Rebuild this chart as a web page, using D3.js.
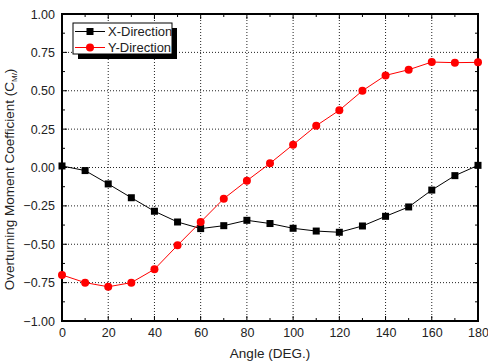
<!DOCTYPE html>
<html>
<head>
<meta charset="utf-8">
<script src="https://cdn.jsdelivr.net/npm/d3@7"></script>
<style>
  body { margin: 0; background: #fff; }
  svg { font-family: "Liberation Sans", Arial, sans-serif; }
</style>
</head>
<body>
<div id="chart"></div>
<script>
const angles = [0, 10, 20, 30, 40, 50, 60, 70, 80, 90, 100, 110, 120, 130, 140, 150, 160, 170, 180];
const xDirection = [0.01, -0.02, -0.107, -0.197, -0.285, -0.355, -0.398, -0.379, -0.344, -0.365, -0.396, -0.414, -0.422, -0.381, -0.318, -0.257, -0.147, -0.053, 0.014];
const yDirection = [-0.70, -0.75, -0.777, -0.75, -0.663, -0.507, -0.355, -0.203, -0.086, 0.027, 0.149, 0.272, 0.373, 0.50, 0.60, 0.637, 0.687, 0.683, 0.685];
const xTicks = [0, 20, 40, 60, 80, 100, 120, 140, 160, 180];
const yTicks = [-1, -0.75, -0.5, -0.25, 0, 0.25, 0.5, 0.75, 1];
const seriesNames = ["X-Direction", "Y-Direction"];

const W = 488, H = 363;
const m = { left: 62, right: 10, top: 14, bottom: 42 };

const svg = d3.select("#chart").append("svg")
  .attr("width", W)
  .attr("height", H);

const x = d3.scaleLinear().domain([0, 180]).range([m.left, W - m.right]);
const y = d3.scaleLinear().domain([-1, 1]).range([H - m.bottom, m.top]);

// dotted grid
const grid = svg.append("g");
grid.selectAll(".gx").data(xTicks.slice(1, -1)).join("line")
  .attr("x1", d => x(d)).attr("x2", d => x(d))
  .attr("y1", y(-1)).attr("y2", y(1))
  .attr("stroke", "#222").attr("stroke-width", 1).attr("stroke-dasharray", "1,2");
grid.selectAll(".gy").data(yTicks.slice(1, -1)).join("line")
  .attr("x1", x(0)).attr("x2", x(180))
  .attr("y1", d => y(d)).attr("y2", d => y(d))
  .attr("stroke", "#222").attr("stroke-width", 1).attr("stroke-dasharray", "1,2");

// tick labels
svg.append("g")
  .attr("transform", `translate(0,${y(-1)})`)
  .call(d3.axisBottom(x).tickValues(xTicks).tickSize(0).tickPadding(7).tickFormat(d3.format("d")))
  .call(g => g.select(".domain").remove())
  .call(g => g.selectAll("text").attr("font-size", 12.5).attr("fill", "#222"));

svg.append("g")
  .attr("transform", `translate(${x(0)},0)`)
  .call(d3.axisLeft(y).tickValues(yTicks).tickSize(0).tickPadding(7).tickFormat(d3.format(".2f")))
  .call(g => g.select(".domain").remove())
  .call(g => g.selectAll("text").attr("font-size", 12.5).attr("fill", "#222"));

// inward ticks on all four sides
const minorX = d3.range(0, 181, 10);
const minorY = d3.range(-1, 1.001, 0.125);
const ticks = svg.append("g").attr("stroke", "#000").attr("stroke-width", 1);
minorX.forEach((v, i) => {
  const len = i % 2 === 0 ? 5 : 3;
  ticks.append("line").attr("x1", x(v)).attr("x2", x(v)).attr("y1", y(-1)).attr("y2", y(-1) - len);
  ticks.append("line").attr("x1", x(v)).attr("x2", x(v)).attr("y1", y(1)).attr("y2", y(1) + len);
});
minorY.forEach((v, i) => {
  const len = i % 2 === 0 ? 5 : 3;
  ticks.append("line").attr("x1", x(0)).attr("x2", x(0) + len).attr("y1", y(v)).attr("y2", y(v));
  ticks.append("line").attr("x1", x(180)).attr("x2", x(180) - len).attr("y1", y(v)).attr("y2", y(v));
});

// frame
svg.append("rect")
  .attr("x", x(0)).attr("y", y(1))
  .attr("width", x(180) - x(0)).attr("height", y(-1) - y(1))
  .attr("fill", "none").attr("stroke", "#000").attr("stroke-width", 2);

// series
const line = d3.line().x((d, i) => x(angles[i])).y(d => y(d));

svg.append("path").datum(xDirection)
  .attr("d", line).attr("fill", "none").attr("stroke", "#000").attr("stroke-width", 1);
svg.append("path").datum(yDirection)
  .attr("d", line).attr("fill", "none").attr("stroke", "#ff0000").attr("stroke-width", 1);

svg.append("g").selectAll("rect").data(xDirection).join("rect")
  .attr("x", (d, i) => x(angles[i]) - 3.5).attr("y", d => y(d) - 3.5)
  .attr("width", 7).attr("height", 7).attr("fill", "#000");
svg.append("g").selectAll("circle").data(yDirection).join("circle")
  .attr("cx", (d, i) => x(angles[i])).attr("cy", d => y(d))
  .attr("r", 4).attr("fill", "#ff0000");

// legend with drop shadow
const lg = svg.append("g").attr("transform", "translate(73,23)");
lg.append("rect").attr("x", 5).attr("y", 5).attr("width", 99).attr("height", 31).attr("fill", "#000");
lg.append("rect").attr("x", 0).attr("y", 0).attr("width", 99).attr("height", 31)
  .attr("fill", "#fff").attr("stroke", "#000").attr("stroke-width", 1);
const colors = ["#000", "#ff0000"];
seriesNames.forEach((name, i) => {
  const cy = 8.5 + i * 16;
  lg.append("line").attr("x1", 2).attr("x2", 32).attr("y1", cy).attr("y2", cy)
    .attr("stroke", colors[i]).attr("stroke-width", 1);
  if (i === 0) {
    lg.append("rect").attr("x", 13.5).attr("y", cy - 3.5).attr("width", 7).attr("height", 7).attr("fill", "#000");
  } else {
    lg.append("circle").attr("cx", 17).attr("cy", cy).attr("r", 4).attr("fill", "#ff0000");
  }
  lg.append("text").attr("x", 35).attr("y", cy + 4.5).attr("font-size", 13).attr("fill", "#222").text(name);
});

// axis titles
svg.append("text")
  .attr("x", (x(0) + x(180)) / 2).attr("y", 358)
  .attr("text-anchor", "middle").attr("font-size", 13.5).attr("fill", "#222")
  .text("Angle (DEG.)");

const yt = svg.append("text")
  .attr("transform", `translate(14,${(y(-1) + y(1)) / 2 + 12}) rotate(-90)`)
  .attr("text-anchor", "middle").attr("font-size", 13.5).attr("fill", "#222");
yt.append("tspan").text("Overturning Moment Coefficient (C");
yt.append("tspan").attr("font-size", 8).attr("dy", 3).text("M/");
yt.append("tspan").attr("dy", -3).text(")");
</script>
</body>
</html>
